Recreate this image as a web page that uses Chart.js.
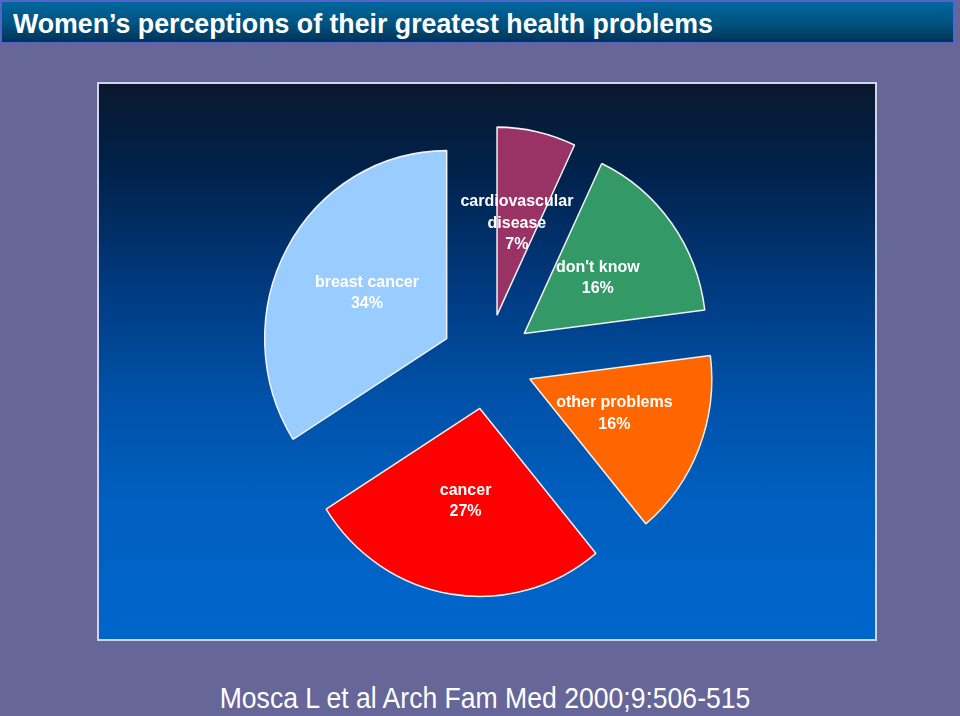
<!DOCTYPE html>
<html>
<head>
<meta charset="utf-8">
<script src="https://cdn.jsdelivr.net/npm/chart.js@4"></script>
<style>
  body {
    margin: 0;
    width: 960px;
    height: 716px;
    background: #666699;
    position: relative;
    overflow: hidden;
    font-family: "Liberation Sans", Arial, sans-serif;
  }
  #titulo {
    position: absolute;
    left: 0;
    top: 0;
    width: 951px;
    height: 40px;
    border: 2px solid #5564c8;
    background: linear-gradient(#00679e, #00527f 55%, #003358);
    color: #fff;
    font-weight: bold;
    font-size: 28px;
    line-height: 40px;
  }
  #titulo span {
    position: absolute;
    left: 11px;
    top: 2px;
    white-space: nowrap;
    transform: scaleX(0.955);
    transform-origin: left center;
  }
  #marco {
    position: absolute;
    left: 97px;
    top: 82px;
    width: 776px;
    height: 555px;
    border: 2px solid #d2d2ea;
    background: linear-gradient(#0a182e 0%, #002149 15%, #00387c 35%, #0050a6 55%, #005fbf 75%, #0066cc 100%);
  }
  #cita {
    position: absolute;
    left: 5px;
    top: 681px;
    width: 960px;
    text-align: center;
    color: #fff;
    font-size: 29px;
    line-height: 34px;
    white-space: nowrap;
    transform: scaleX(0.916);
  }
  canvas {
    position: absolute;
    left: 0;
    top: 0;
  }
</style>
</head>
<body>
<div id="titulo"><span>Women’s perceptions of their greatest health problems</span></div>
<div id="marco"></div>
<div id="cita">Mosca L et al Arch Fam Med 2000;9:506-515</div>
<canvas id="grafico" width="960" height="716"></canvas>
<script>
// Datos del gráfico (en el orden de las agujas del reloj desde arriba)
const categorias = [
  ["cardiovascular", "disease"],
  ["don't know"],
  ["other problems"],
  ["cancer"],
  ["breast cancer"],
];
const porcentajes = [7, 16, 16, 27, 34];

// el pastel original está un poco estirado en vertical
const estirar = 1.033;

// Separa cada porción del centro (pastel "explotado") y estira en vertical
const separar = {
  id: "separar",
  afterDatasetUpdate(chart, args) {
    args.meta.data.forEach((arco) => {
      const medio = (arco.startAngle + arco.endAngle) / 2;
      arco.x += Math.cos(medio) * 46;
      arco.y += Math.sin(medio) * 46;
    });
  },
  beforeDatasetsDraw(chart) {
    const ctx = chart.ctx;
    const cy = (chart.chartArea.top + chart.chartArea.bottom) / 2;
    ctx.save();
    ctx.translate(0, cy);
    ctx.scale(1, estirar);
    ctx.translate(0, -cy);
  },
  afterDatasetsDraw(chart) {
    chart.ctx.restore();
  },
};

// Escribe el nombre y el porcentaje dentro de cada porción
const etiquetas = {
  id: "etiquetas",
  afterDatasetsDraw(chart) {
    const ctx = chart.ctx;
    const cy = (chart.chartArea.top + chart.chartArea.bottom) / 2;
    const arcos = chart.getDatasetMeta(0).data;
    ctx.save();
    ctx.fillStyle = "#ffffff";
    ctx.font = "bold 16px 'Liberation Sans', Arial, sans-serif";
    ctx.textAlign = "center";
    ctx.textBaseline = "middle";
    arcos.forEach((arco, i) => {
      const medio = (arco.startAngle + arco.endAngle) / 2;
      const dist = arco.outerRadius * 0.5;
      const x = arco.x + Math.cos(medio) * dist;
      const y = cy + (arco.y + Math.sin(medio) * dist - cy) * estirar;
      const lineas = [...categorias[i], porcentajes[i] + "%"];
      lineas.forEach((linea, j) => {
        ctx.fillText(linea, x, y + (j - (lineas.length - 1) / 2) * 21.5);
      });
    });
    ctx.restore();
  },
};

new Chart(document.getElementById("grafico"), {
  type: "pie",
  data: {
    labels: categorias,
    datasets: [
      {
        data: porcentajes,
        backgroundColor: ["#993366", "#339966", "#ff6600", "#ff0000", "#99ccff"],
        borderColor: "#f2f2f2",
        borderWidth: 1.5,
      },
    ],
  },
  options: {
    responsive: false,
    animation: false,
    events: [],
    radius: 182,
    layout: {
      padding: { left: 114, right: 100, top: 7, bottom: 0 },
    },
    plugins: {
      legend: { display: false },
      tooltip: { enabled: false },
    },
  },
  plugins: [separar, etiquetas],
});
</script>
</body>
</html>
